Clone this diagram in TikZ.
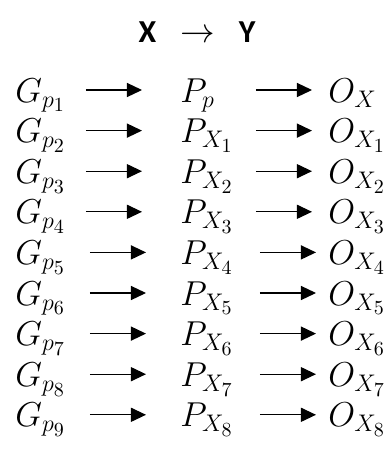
\documentclass[tikz,border=0pt]{standalone}
\usepackage{fontspec}
\newfontfamily\titlefont{Carlito}
\DeclareMathSizes{17}{17}{12.5}{10}
\usetikzlibrary{arrows.meta,positioning}

\begin{document}
\begin{tikzpicture}[
    x=0.5pt, y=-0.5pt,
    term/.style={inner sep=0pt, anchor=base west, text width=20pt, text height=12pt, text depth=0pt, font=\fontsize{17}{20}\selectfont},
    arr/.style={-{Triangle[length=7.5pt, width=7pt]}, line width=0.6pt}
  ]
    \useasboundingbox (0,0) rectangle (390,462);
    \node[font=\titlefont\bfseries\fontsize{16}{19}\selectfont] (title) at (197,32) {X\hspace{12pt}$\rightarrow$\hspace{12pt}Y};
    % one row per stage: G -> P -> O
    \foreach \i/\ps/\os/\dx in {1/p/X/0, 2/X_1/X_1/0, 3/X_2/X_2/0, 4/X_3/X_3/0, 5/X_4/X_4/2,
                                 6/X_5/X_5/2, 7/X_6/X_6/2, 8/X_7/X_7/2, 9/X_8/X_8/2} {
      \pgfmathsetmacro\rowy{102+40.6*(\i-1)}
      \node[term] (g\i) at (15,\rowy) {$G_{p_{\i}}$};
      \node[term] (p\i) at (180,\rowy) {$P_{\ps}$};
      \node[term] (o\i) at (328,\rowy) {$O_{\os}$};
      \draw[arr] ([xshift=15pt+\dx pt]g\i.east) -- ([xshift=-19pt+\dx pt]p\i.west);
      \draw[arr] ([xshift=17.5pt+\dx pt]p\i.east) -- ([xshift=-8pt+\dx pt]o\i.west);
    }
  \end{tikzpicture}
\end{document}
